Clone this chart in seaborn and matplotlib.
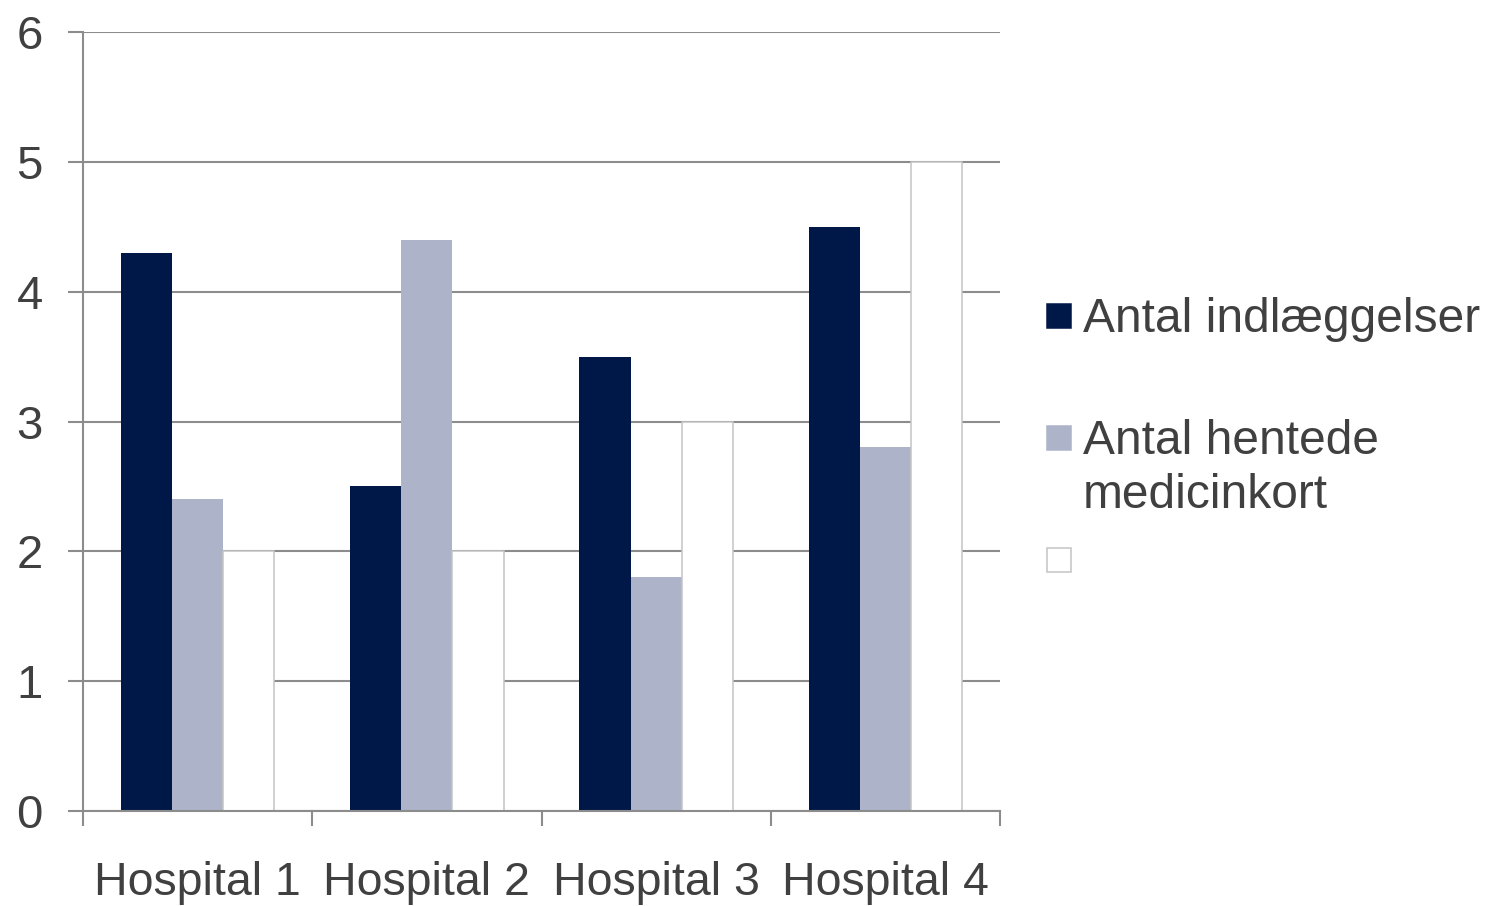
import numpy as np
import pandas as pd
import matplotlib
matplotlib.use("Agg")
import matplotlib.pyplot as plt
import seaborn as sns
from matplotlib.patches import Rectangle
from matplotlib.ticker import FixedLocator

# data
hospitals = ["Hospital 1", "Hospital 2", "Hospital 3", "Hospital 4"]
series = ["Antal indlæggelser", "Antal hentede\nmedicinkort", ""]
indlaeggelser = [4.3, 2.5, 3.5, 4.5]
medicinkort = [2.4, 4.4, 1.8, 2.8]
tredje = [2.0, 2.0, 3.0, 5.0]
colors = ["#001848", "#adb3c8", "#ffffff"]

df = pd.DataFrame({
    "hospital": hospitals * 3,
    "serie": [series[0]] * 4 + [series[1]] * 4 + [series[2] or "Serie 3"] * 4,
    "value": indlaeggelser + medicinkort + tredje,
})
hue_order = [series[0], series[1], "Serie 3"]

sns.set_style("white")
plt.rcParams["font.family"] = ["Liberation Sans", "DejaVu Sans"]
txt = "#404040"
grid = "#8c8c8c"
outline = "#c4c4c4"

W, H = 1488, 906
fig = plt.figure(figsize=(W / 100, H / 100), dpi=100)
ax = fig.add_axes([83 / W, 1 - 811 / H, (1000 - 83) / W, (811 - 32) / H])

sns.barplot(data=df, x="hospital", y="value", hue="serie", order=hospitals,
            hue_order=hue_order, palette=colors, width=0.67, saturation=1,
            legend=False, ax=ax)

# white bars get a thin grey outline, the others none
for i, cont in enumerate(ax.containers):
    for p in cont:
        if i == 2:
            p.set_edgecolor(outline)
            p.set_linewidth(1.1)
        else:
            p.set_linewidth(0)

ax.set_xlim(-0.5, 3.5)
ax.set_ylim(0, 6)
ax.set_yticks(range(7))
ax.set_axisbelow(True)
ax.yaxis.grid(True, color=grid, lw=1.5)
ax.set_xlabel("")
ax.set_ylabel("")

for s in ["top", "right"]:
    ax.spines[s].set_visible(False)
for s in ["left", "bottom"]:
    ax.spines[s].set_color(grid)
    ax.spines[s].set_linewidth(1.5)

ax.tick_params(axis="y", left=True, length=11, width=1.5, color=grid, pad=18,
               labelsize=34, labelcolor=txt)
ax.tick_params(axis="x", which="major", length=0, pad=36,
               labelsize=33.5, labelcolor=txt)
ax.xaxis.set_minor_locator(FixedLocator(np.arange(-0.5, 4, 1)))
ax.tick_params(axis="x", which="minor", bottom=True, length=11, width=1.5, color=grid)

# legend, drawn by hand so the square sits on the first line of each label
legend_y = [316, 438, 560]
for lab, c, yc in zip(series, colors, legend_y):
    fig.patches.append(Rectangle((1047 / W, 1 - (yc + 12) / H), 24 / W, 24 / H,
                                 transform=fig.transFigure, facecolor=c,
                                 edgecolor=(outline if c == "#ffffff" else c), lw=1.1))
    if lab:
        fig.text(1083 / W, 1 - (yc - 19) / H, lab, ha="left", va="top",
                 fontsize=34.5, color=txt, linespacing=1.26)

fig.savefig("out.png", dpi=100, facecolor="white")
